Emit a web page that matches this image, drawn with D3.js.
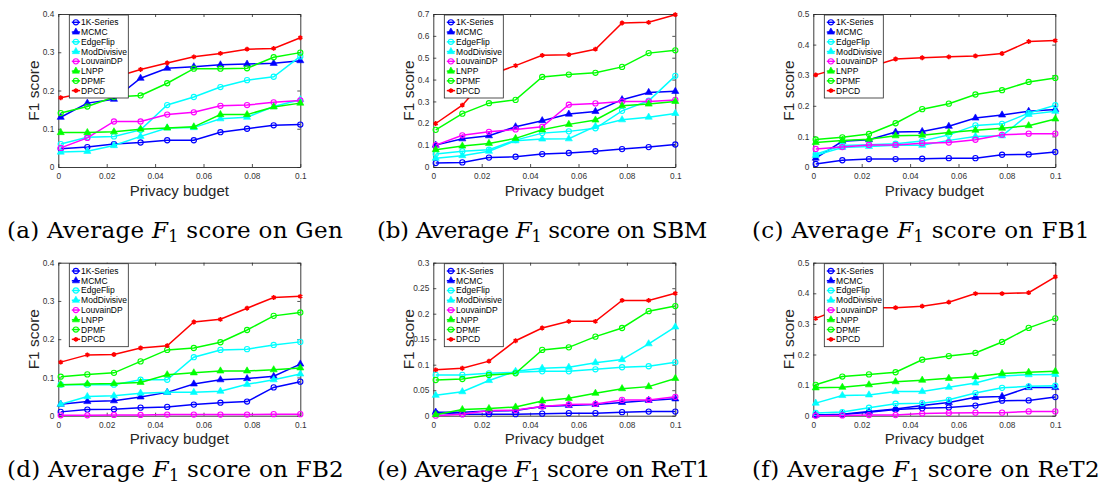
<!DOCTYPE html>
<html>
<head>
<meta charset="utf-8">
<script src="https://cdn.jsdelivr.net/npm/d3@7"></script>
<style>
  body { margin: 0; background: #fff; }
  svg { display: block; }
  .tick text { font-family: "Liberation Sans", Arial, sans-serif; fill: #333; }
</style>
</head>
<body>
<svg id="chart" width="1105" height="491"></svg>
<script>
// privacy budgets on the x axis
const budgets = [0.001, 0.012, 0.023, 0.034, 0.045, 0.056, 0.067, 0.078, 0.089, 0.1];
const xTicks = [0, 0.02, 0.04, 0.06, 0.08, 0.1];
const methods = ['1K-Series', 'MCMC', 'EdgeFlip', 'ModDivisive', 'LouvainDP', 'LNPP', 'DPMF', 'DPCD'];

// one row per method, same order as methods
const genScores = [
  [0.048, 0.052, 0.060, 0.064, 0.070, 0.070, 0.091, 0.100, 0.109, 0.111],
  [0.130, 0.167, 0.177, 0.232, 0.258, 0.262, 0.267, 0.269, 0.271, 0.278],
  [0.060, 0.078, 0.080, 0.097, 0.162, 0.183, 0.209, 0.227, 0.236, 0.289],
  [0.039, 0.041, 0.056, 0.080, 0.102, 0.103, 0.126, 0.130, 0.158, 0.176],
  [0.050, 0.076, 0.119, 0.119, 0.137, 0.143, 0.160, 0.162, 0.169, 0.174],
  [0.090, 0.090, 0.092, 0.099, 0.102, 0.105, 0.137, 0.137, 0.157, 0.167],
  [0.141, 0.158, 0.183, 0.187, 0.219, 0.257, 0.257, 0.258, 0.287, 0.299],
  [0.181, 0.195, 0.234, 0.255, 0.272, 0.288, 0.297, 0.308, 0.310, 0.338]
];
const sbmScores = [
  [0.018, 0.021, 0.043, 0.047, 0.059, 0.064, 0.072, 0.082, 0.091, 0.103],
  [0.100, 0.129, 0.143, 0.184, 0.212, 0.242, 0.254, 0.308, 0.341, 0.346],
  [0.059, 0.072, 0.079, 0.123, 0.155, 0.163, 0.177, 0.257, 0.303, 0.417],
  [0.040, 0.052, 0.072, 0.120, 0.128, 0.129, 0.186, 0.216, 0.228, 0.245],
  [0.100, 0.145, 0.161, 0.172, 0.184, 0.285, 0.291, 0.300, 0.300, 0.307],
  [0.079, 0.096, 0.108, 0.131, 0.170, 0.195, 0.215, 0.280, 0.288, 0.300],
  [0.170, 0.244, 0.292, 0.307, 0.412, 0.423, 0.431, 0.458, 0.521, 0.534],
  [0.199, 0.283, 0.420, 0.464, 0.511, 0.514, 0.539, 0.659, 0.662, 0.697]
];
const fb1Scores = [
  [0.010, 0.022, 0.026, 0.026, 0.027, 0.029, 0.029, 0.040, 0.041, 0.049],
  [0.029, 0.084, 0.089, 0.114, 0.116, 0.133, 0.160, 0.170, 0.182, 0.188],
  [0.042, 0.070, 0.073, 0.076, 0.085, 0.105, 0.136, 0.141, 0.176, 0.202],
  [0.038, 0.064, 0.067, 0.071, 0.071, 0.087, 0.100, 0.102, 0.172, 0.182],
  [0.059, 0.065, 0.072, 0.072, 0.078, 0.080, 0.089, 0.105, 0.109, 0.109],
  [0.080, 0.087, 0.091, 0.102, 0.104, 0.113, 0.120, 0.127, 0.135, 0.157],
  [0.090, 0.097, 0.108, 0.143, 0.189, 0.207, 0.237, 0.251, 0.278, 0.291],
  [0.301, 0.326, 0.326, 0.353, 0.357, 0.360, 0.363, 0.371, 0.410, 0.413]
];
const fb2Scores = [
  [0.010, 0.016, 0.017, 0.021, 0.023, 0.029, 0.034, 0.037, 0.074, 0.089],
  [0.030, 0.037, 0.039, 0.049, 0.061, 0.083, 0.094, 0.097, 0.103, 0.135],
  [0.081, 0.081, 0.081, 0.094, 0.094, 0.153, 0.172, 0.174, 0.185, 0.193],
  [0.030, 0.050, 0.052, 0.059, 0.061, 0.061, 0.064, 0.082, 0.094, 0.109],
  [0.001, 0.001, 0.002, 0.002, 0.003, 0.003, 0.003, 0.003, 0.004, 0.004],
  [0.081, 0.083, 0.084, 0.087, 0.107, 0.112, 0.117, 0.117, 0.120, 0.125],
  [0.102, 0.108, 0.112, 0.142, 0.172, 0.177, 0.192, 0.224, 0.261, 0.270],
  [0.140, 0.159, 0.160, 0.177, 0.183, 0.245, 0.252, 0.281, 0.309, 0.312]
];
const ret1Scores = [
  [0.005, 0.003, 0.003, 0.003, 0.004, 0.005, 0.005, 0.007, 0.008, 0.008],
  [0.007, 0.007, 0.009, 0.010, 0.018, 0.020, 0.022, 0.026, 0.030, 0.033],
  [0.080, 0.080, 0.083, 0.085, 0.087, 0.087, 0.091, 0.095, 0.097, 0.105],
  [0.040, 0.047, 0.069, 0.087, 0.093, 0.095, 0.104, 0.110, 0.141, 0.174],
  [0.000, 0.003, 0.010, 0.011, 0.018, 0.022, 0.023, 0.031, 0.031, 0.037],
  [0.002, 0.012, 0.014, 0.017, 0.029, 0.034, 0.044, 0.053, 0.057, 0.073],
  [0.070, 0.072, 0.080, 0.083, 0.129, 0.134, 0.155, 0.172, 0.205, 0.215],
  [0.090, 0.093, 0.107, 0.147, 0.172, 0.185, 0.185, 0.226, 0.226, 0.240]
];
const ret2Scores = [
  [0.002, 0.004, 0.011, 0.020, 0.024, 0.027, 0.033, 0.049, 0.050, 0.061],
  [0.002, 0.005, 0.014, 0.022, 0.033, 0.043, 0.060, 0.063, 0.092, 0.092],
  [0.009, 0.012, 0.026, 0.039, 0.041, 0.052, 0.074, 0.091, 0.096, 0.098],
  [0.041, 0.066, 0.068, 0.079, 0.079, 0.093, 0.107, 0.130, 0.134, 0.135],
  [0.000, 0.001, 0.002, 0.002, 0.007, 0.009, 0.010, 0.010, 0.014, 0.014],
  [0.091, 0.093, 0.101, 0.111, 0.116, 0.122, 0.127, 0.138, 0.142, 0.145],
  [0.101, 0.128, 0.135, 0.142, 0.183, 0.195, 0.205, 0.241, 0.287, 0.318],
  [0.318, 0.352, 0.353, 0.353, 0.358, 0.371, 0.399, 0.399, 0.402, 0.454]
];

const yTicksGen = [0, 0.1, 0.2, 0.3, 0.4];
const yTicksSbm = [0, 0.1, 0.2, 0.3, 0.4, 0.5, 0.6, 0.7];
const yTicksFb1 = [0, 0.1, 0.2, 0.3, 0.4, 0.5];
const yTicksFb2 = [0, 0.1, 0.2, 0.3, 0.4];
const yTicksRet1 = [0, 0.05, 0.1, 0.15, 0.2, 0.25, 0.3];
const yTicksRet2 = [0, 0.1, 0.2, 0.3, 0.4, 0.5];

const captionLetters = ['a', 'b', 'c', 'd', 'e', 'f'];
const datasetNames = ['Gen', 'SBM', 'FB1', 'FB2', 'ReT1', 'ReT2'];

const panels = [
  { scores: genScores, yTicks: yTicksGen },
  { scores: sbmScores, yTicks: yTicksSbm },
  { scores: fb1Scores, yTicks: yTicksFb1 },
  { scores: fb2Scores, yTicks: yTicksFb2 },
  { scores: ret1Scores, yTicks: yTicksRet1 },
  { scores: ret2Scores, yTicks: yTicksRet2 }
];

// matlab style colours + markers
const colors = ['#0000ff', '#0000ff', '#00ffff', '#00ffff', '#ff00ff', '#00ff00', '#00ff00', '#ff0000'];
const markers = ['circle', 'triangle', 'circle', 'triangle', 'circle', 'triangle', 'circle', 'star'];

const plotW = 242, plotH = 153;
const colLeft = [58.3, 433.3, 813.3];
const rowTop = [14, 262.7];
const captionX = [7, 377, 752];
const captionY = [238, 477];
const captionRight = [343, 707, 1090, 344, 710, 1100];

const svg = d3.select('#chart');
const fontSans = '"Liberation Sans", Arial, Helvetica, sans-serif';

function drawMarker(sel, kind, color) {
  if (kind === 'circle') {
    sel.append('circle').attr('r', 2.6)
      .attr('fill', 'none').attr('stroke', color).attr('stroke-width', 1.1);
  } else if (kind === 'triangle') {
    sel.append('path').attr('d', d3.symbol(d3.symbolTriangle, 22)())
      .attr('fill', color).attr('stroke', color).attr('stroke-width', 0.6);
  } else {
    sel.append('path').attr('d', d3.symbol(d3.symbolAsterisk, 16)())
      .attr('fill', 'none').attr('stroke', color).attr('stroke-width', 1.6);
  }
}

panels.forEach((p, pi) => {
  const col = pi % 3, row = Math.floor(pi / 3);
  const left = colLeft[col], top = rowTop[row];
  const g = svg.append('g').attr('transform', `translate(${left},${top})`);

  const x = d3.scaleLinear().domain([0, 0.1]).range([0, plotW]);
  const y = d3.scaleLinear().domain([0, d3.max(p.yTicks)]).range([plotH, 0]);
  const fmt = d3.format('~g');

  // axes, ticks pointing inward like matlab
  g.append('g').attr('transform', `translate(0,${plotH})`)
    .call(d3.axisBottom(x).tickValues(xTicks).tickFormat(fmt).tickSizeInner(-3).tickSizeOuter(0).tickPadding(6));
  g.append('g')
    .call(d3.axisTop(x).tickValues(xTicks).tickFormat('').tickSizeInner(-3).tickSizeOuter(0));
  g.append('g')
    .call(d3.axisLeft(y).tickValues(p.yTicks).tickFormat(fmt).tickSizeInner(-3).tickSizeOuter(0).tickPadding(4));
  g.append('g').attr('transform', `translate(${plotW},0)`)
    .call(d3.axisRight(y).tickValues(p.yTicks).tickFormat('').tickSizeInner(-3).tickSizeOuter(0));
  g.selectAll('.domain').attr('stroke', '#262626').attr('stroke-width', 0.9);
  g.selectAll('.tick line').attr('stroke', '#262626').attr('stroke-width', 0.8);
  g.selectAll('.tick text').attr('font-size', 8.3);

  // data lines
  p.scores.forEach((vals, si) => {
    const pts = vals.map((v, i) => [x(budgets[i]), y(v)]);
    g.append('path')
      .attr('d', d3.line()(pts))
      .attr('fill', 'none')
      .attr('stroke', colors[si])
      .attr('stroke-width', 1.5);
    pts.forEach(pt => {
      drawMarker(g.append('g').attr('transform', `translate(${pt[0]},${pt[1]})`), markers[si], colors[si]);
    });
  });

  // legend
  const lg = g.append('g').attr('transform', 'translate(11,1)');
  lg.append('rect').attr('width', 59).attr('height', 83)
    .attr('fill', '#fff').attr('stroke', '#262626').attr('stroke-width', 0.8);
  methods.forEach((m, i) => {
    const ly = 7.3 + i * 9.76;
    lg.append('line').attr('x1', 2.5).attr('x2', 10.8).attr('y1', ly).attr('y2', ly)
      .attr('stroke', colors[i]).attr('stroke-width', 1.5);
    drawMarker(lg.append('g').attr('transform', `translate(6.6,${ly})`), markers[i], colors[i]);
    lg.append('text').attr('x', 11.8).attr('y', ly).attr('dy', '0.35em')
      .attr('font-family', fontSans).attr('font-size', 8.5).attr('fill', '#000')
      .text(m);
  });

  // axis labels
  g.append('text')
    .attr('x', plotW / 2).attr('y', plotH + 28.5)
    .attr('text-anchor', 'middle')
    .attr('font-family', fontSans).attr('font-size', 15).attr('fill', '#262626')
    .text('Privacy budget');
  g.append('text')
    .attr('transform', `translate(-19,${plotH / 2}) rotate(-90)`)
    .attr('text-anchor', 'middle')
    .attr('font-family', fontSans).attr('font-size', 15.5).attr('fill', '#262626')
    .text('F1 score');

  // caption below each subplot
  const cap = svg.append('text')
    .attr('x', captionX[col]).attr('y', captionY[row])
    .attr('font-family', '"DejaVu Serif", "Liberation Serif", serif')
    .attr('font-size', 23).attr('fill', '#000');
  const before = `(${captionLetters[pi]}) Average `;
  const after = ` score on ${datasetNames[pi]}`;
  cap.append('tspan').text(before);
  cap.append('tspan').attr('font-style', 'italic').text('F');
  cap.append('tspan').attr('font-size', 16).attr('dy', 4).text('1');
  cap.append('tspan').attr('dy', -4).text(after);
  // stretch spacing so the caption spans the same width as in the paper
  const nChars = before.length + after.length + 2;
  const w = cap.node().getComputedTextLength();
  const target = captionRight[pi] - captionX[col];
  cap.attr('letter-spacing', (target - w) / nChars);
});
</script>
</body>
</html>
